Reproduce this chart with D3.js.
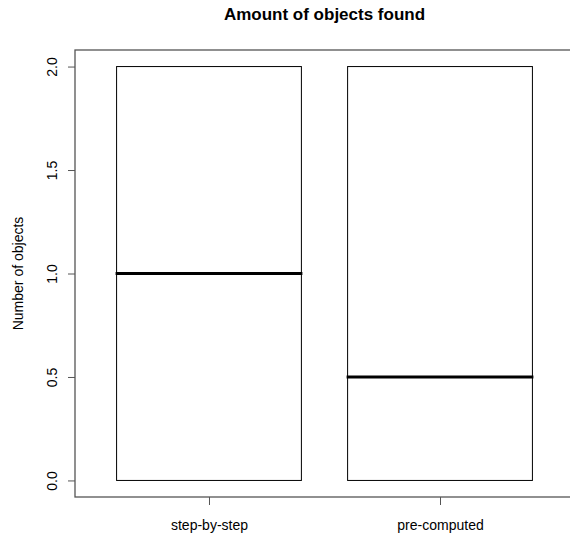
<!DOCTYPE html>
<html><head><meta charset="utf-8">
<script src="https://cdn.jsdelivr.net/npm/d3@7"></script>
<style>body{margin:0;background:#fff}svg{display:block}</style>
</head><body>
<svg id="c" width="570" height="536"></svg>
<script>
const categories = ["step-by-step", "pre-computed"];
const mins     = [0, 0];
const q1s      = [0, 0];
const medians  = [1, 0.5];
const q3s      = [2, 2];
const maxs     = [2, 2];
const yTicks   = [0, 0.5, 1, 1.5, 2];
const yTickLabels = ["0.0", "0.5", "1.0", "1.5", "2.0"];

(function(){
const svg = d3.select("#c");
const font = "'Liberation Sans', Arial, sans-serif";
const pL = 75, pR = 574, pT = 50, pB = 497;

const x = d3.scaleLinear().domain([0.42, 2.58]).range([pL, pR]);
const y = d3.scaleLinear().domain([-0.08, 2.08]).range([pB, pT]);
const bw = 0.8;

// frame
svg.append("rect").attr("x", pL).attr("y", pT)
  .attr("width", pR - pL).attr("height", pB - pT)
  .attr("fill", "none").attr("stroke", "#555").attr("stroke-width", 1.3);

// y axis
const ya = svg.append("g").attr("transform", `translate(${pL},0)`)
  .call(d3.axisLeft(y).tickValues(yTicks).tickFormat((d,i)=>yTickLabels[i]).tickSize(7).tickPadding(0));
ya.select(".domain").remove();
ya.selectAll(".tick line").attr("stroke", "#555");
ya.selectAll(".tick text").attr("transform", "rotate(-90)")
  .attr("x", 0).attr("y", -18).attr("dy", "0")
  .attr("text-anchor", "middle").attr("font-family", font).attr("font-size", 14).attr("fill", "#000");

// x axis
const xa = svg.append("g").attr("transform", `translate(0,${pB})`)
  .call(d3.axisBottom(x).tickValues([1, 2]).tickFormat((d)=>categories[d-1]).tickSize(8).tickPadding(0));
xa.select(".domain").remove();
xa.selectAll(".tick line").attr("stroke", "#555");
xa.selectAll(".tick text").attr("y", 33).attr("dy", "0")
  .attr("font-family", font).attr("font-size", 14).attr("fill", "#000");

// boxes
categories.forEach((c, i) => {
  const cx = i + 1;
  const g = svg.append("g");
  g.append("line").attr("x1", x(cx)).attr("x2", x(cx)).attr("y1", y(q3s[i])).attr("y2", y(maxs[i]))
    .attr("stroke", "#000").attr("stroke-dasharray", "4,3");
  g.append("line").attr("x1", x(cx)).attr("x2", x(cx)).attr("y1", y(q1s[i])).attr("y2", y(mins[i]))
    .attr("stroke", "#000").attr("stroke-dasharray", "4,3");
  g.append("rect").attr("x", x(cx - bw/2)).attr("y", y(q3s[i]))
    .attr("width", x(cx + bw/2) - x(cx - bw/2)).attr("height", y(q1s[i]) - y(q3s[i]))
    .attr("fill", "#fff").attr("stroke", "#000").attr("stroke-width", 1);
  g.append("line").attr("x1", x(cx - bw/2) - 1).attr("x2", x(cx + bw/2) + 1)
    .attr("y1", y(medians[i])).attr("y2", y(medians[i]))
    .attr("stroke", "#000").attr("stroke-width", 3);
});

// title
svg.append("text").attr("x", (pL + pR) / 2).attr("y", 20)
  .attr("text-anchor", "middle").attr("font-family", font).attr("font-weight", "bold")
  .attr("font-size", 17).text("Amount of objects found");

// y label
svg.append("text").attr("transform", `translate(23,${(pT+pB)/2}) rotate(-90)`)
  .attr("text-anchor", "middle").attr("font-family", font).attr("font-size", 14)
  .text("Number of objects");
})();
</script>
</body></html>
